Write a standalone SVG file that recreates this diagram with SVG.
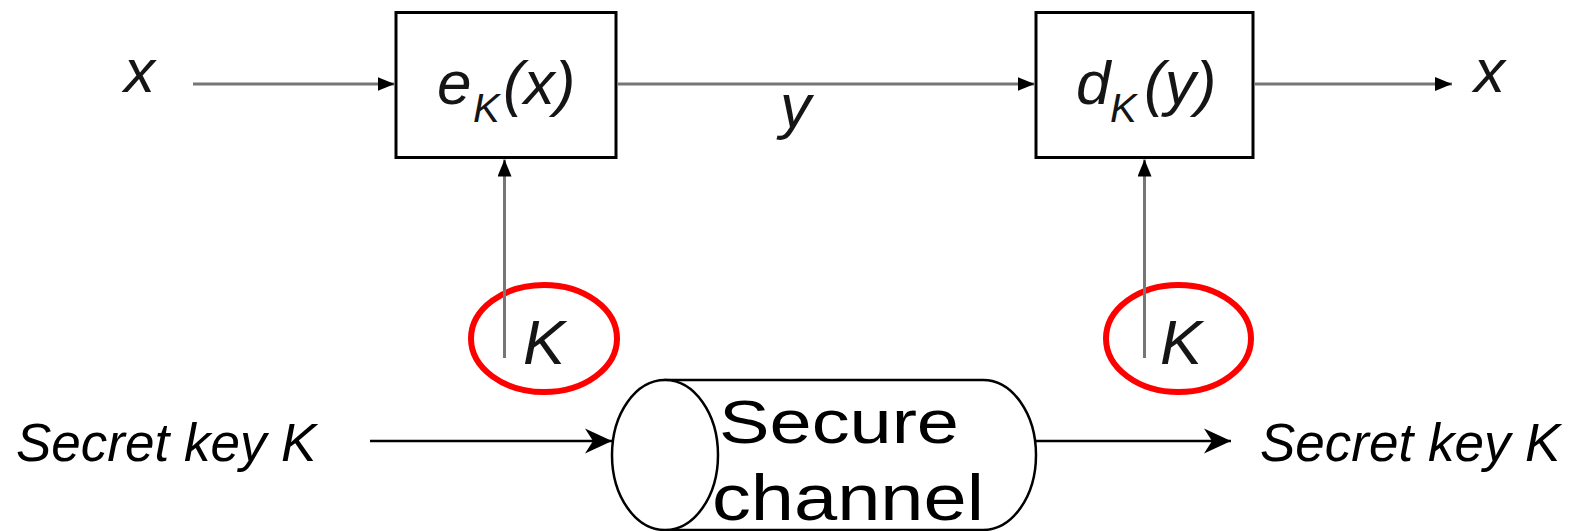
<svg xmlns="http://www.w3.org/2000/svg" width="1572" height="531" viewBox="0 0 1572 531">
  <style>
    .math { font-family: "Liberation Sans", Arial, sans-serif; font-style: italic; fill: #151515; }
    .box { fill: #ffffff; stroke: #000000; stroke-width: 3; }
    .flow { stroke: #767676; stroke-width: 3; fill: none; }
    .keyring { fill: none; stroke: #ff0000; stroke-width: 6; }
    .chan { stroke: #000000; stroke-width: 2.5; fill: none; }
    .label { font-family: "Liberation Sans", Arial, sans-serif; fill: #000000; }
  </style>
  <defs>
    <marker id="tri" markerUnits="userSpaceOnUse" markerWidth="17" markerHeight="14" refX="17" refY="7" orient="auto">
      <path d="M0,0 L17,7 L0,14 Z" fill="#000000"/>
    </marker>
    <marker id="barb" markerUnits="userSpaceOnUse" markerWidth="28" markerHeight="26" refX="27" refY="13" orient="auto">
      <path d="M0,0.5 L27,13 L0,25.5 L8,13 Z" fill="#000000"/>
    </marker>
  </defs>

  <rect width="1572" height="531" fill="#ffffff"/>

  <!-- input / output symbols -->
  <g id="plain-in">
    <text class="math" x="124" y="92" font-size="62">x</text>
  </g>
  <g id="plain-out">
    <text class="math" x="1474" y="92" font-size="62">x</text>
  </g>
  <g id="cipher-label">
    <text class="math" x="780" y="127" font-size="62">y</text>
  </g>

  <!-- encryption block -->
  <g id="encrypt">
    <rect class="box" x="396" y="12.5" width="220" height="145"/>
    <text class="math" x="437" y="104" font-size="62">e</text>
    <text class="math" x="473" y="122" font-size="40">K</text>
    <text class="math" x="503" y="104" font-size="62">(x)</text>
  </g>

  <!-- decryption block -->
  <g id="decrypt">
    <rect class="box" x="1036" y="12.5" width="217" height="145"/>
    <text class="math" x="1076" y="104" font-size="62">d</text>
    <text class="math" x="1110" y="122" font-size="40">K</text>
    <text class="math" x="1144" y="104" font-size="62">(y)</text>
  </g>

  <!-- key inputs, circled -->
  <g id="key-enc">
    <ellipse class="keyring" cx="544" cy="338.5" rx="73" ry="53.5"/>
    <text class="math" x="523" y="364" font-size="63">K</text>
  </g>
  <g id="key-dec">
    <ellipse class="keyring" cx="1178.5" cy="338.5" rx="72.5" ry="53.5"/>
    <text class="math" x="1160" y="364" font-size="63">K</text>
  </g>

  <!-- key distribution -->
  <g id="key-source">
    <text class="label" x="16" y="461" font-size="53" font-style="italic">Secret key K</text>
  </g>
  <g id="key-sink">
    <text class="label" x="1260" y="461" font-size="53" font-style="italic">Secret key K</text>
  </g>

  <g id="secure-channel">
    <path class="chan" d="M665,380 L983,380 A53,75 0 0 1 983,530 L665,530 Z" style="fill:#ffffff"/>
    <ellipse class="chan" cx="665" cy="455" rx="53" ry="75" style="fill:#ffffff"/>
    <text class="label" x="719" y="443" font-size="62" textLength="240" lengthAdjust="spacingAndGlyphs">Secure</text>
    <text class="label" x="712" y="520" font-size="65" textLength="272" lengthAdjust="spacingAndGlyphs">channel</text>
  </g>

  <!-- connectors -->
  <g id="connectors">
    <line class="flow" x1="193" y1="84" x2="394.5" y2="84" marker-end="url(#tri)"/>
    <line class="flow" x1="617.5" y1="84" x2="1034.5" y2="84" marker-end="url(#tri)"/>
    <line class="flow" x1="1254.5" y1="84" x2="1452" y2="84" marker-end="url(#tri)"/>
    <line class="flow" x1="504.5" y1="358" x2="504.5" y2="159.5" marker-end="url(#tri)"/>
    <line class="flow" x1="1144.5" y1="358" x2="1144.5" y2="159.5" marker-end="url(#tri)"/>
    <line class="chan" x1="370" y1="441" x2="612" y2="441" marker-end="url(#barb)"/>
    <line class="chan" x1="1036" y1="441" x2="1231" y2="441" marker-end="url(#barb)"/>
  </g>
</svg>
